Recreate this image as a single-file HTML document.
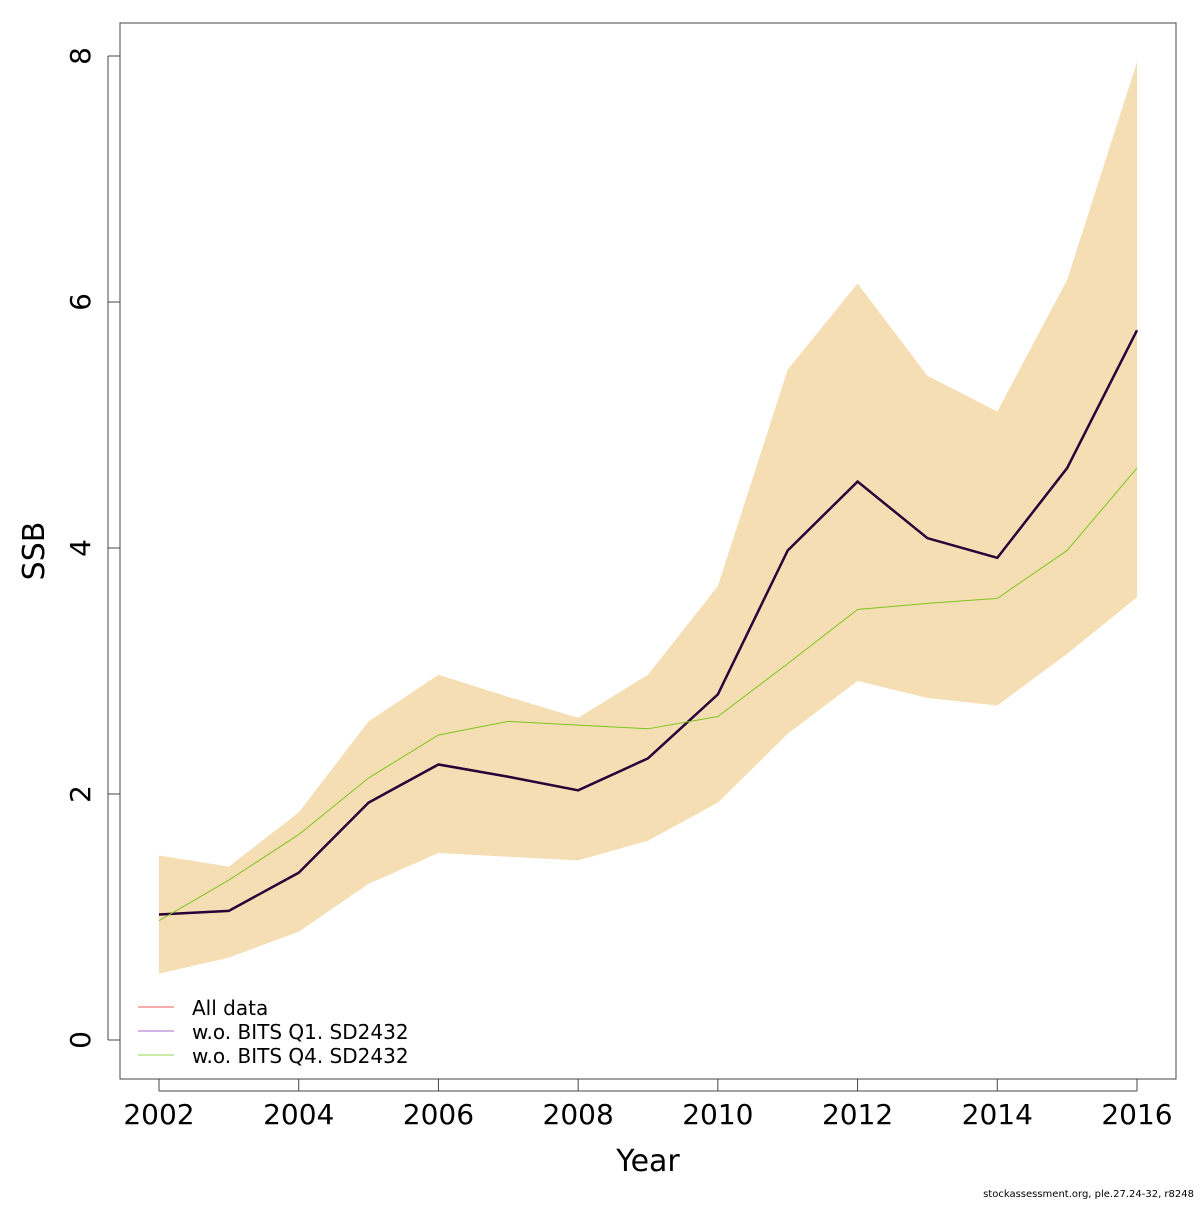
<!DOCTYPE html>
<html><head><meta charset="utf-8"><style>
body{margin:0;background:#fff}
svg text{font-family:"DejaVu Sans","Liberation Sans",sans-serif;fill:#000}
</style></head><body>
<svg id="chart" width="1200" height="1200" xmlns="http://www.w3.org/2000/svg">
<rect x="0" y="0" width="1200" height="1200" fill="#fff"/>
<g id="plot"></g>
<rect x="120" y="23" width="1056" height="1056" fill="none" stroke="#444" stroke-width="1"/>
<text x="648" y="1171" font-size="30" text-anchor="middle">Year</text>
<text transform="translate(44,551) rotate(-90)" font-size="30" text-anchor="middle">SSB</text>
<text x="1194" y="1197" font-size="10" text-anchor="end">stockassessment.org, ple.27.24-32, r8248</text>
<g>
<line x1="138" y1="1007" x2="174" y2="1007" stroke="#F4908E" stroke-width="1.5"/>
<text x="192" y="1015" font-size="20">All data</text>
<line x1="138" y1="1031" x2="174" y2="1031" stroke="#C29BDB" stroke-width="1.5"/>
<text x="192" y="1039" font-size="20">w.o. BITS Q1. SD2432</text>
<line x1="138" y1="1055" x2="174" y2="1055" stroke="#B5E58C" stroke-width="1.5"/>
<text x="192" y="1063" font-size="20">w.o. BITS Q4. SD2432</text>
</g>
</svg>
<script>
const years=[2002,2003,2004,2005,2006,2007,2008,2009,2010,2011,2012,2013,2014,2015,2016];
const upper=[1.50,1.41,1.85,2.59,2.97,2.79,2.62,2.97,3.69,5.45,6.15,5.40,5.11,6.18,7.95];
const lower=[0.54,0.67,0.88,1.27,1.52,1.49,1.46,1.62,1.93,2.49,2.92,2.78,2.72,3.14,3.60];
const allData=[1.02,1.05,1.36,1.93,2.24,2.14,2.03,2.29,2.81,3.98,4.54,4.08,3.92,4.65,5.77];
const woQ4=[0.97,1.30,1.67,2.13,2.48,2.59,2.56,2.53,2.63,3.06,3.50,3.55,3.59,3.98,4.65];
const xTicks=[2002,2004,2006,2008,2010,2012,2014,2016];
const yTicks=[0,2,4,6,8];
const X=v=>159+(v-2002)*(1137-159)/14;
const Y=v=>1040-v*123;
const NS='http://www.w3.org/2000/svg';
const g=document.getElementById('plot');
function mk(t,a){const e=document.createElementNS(NS,t);for(const k in a)e.setAttribute(k,a[k]);g.appendChild(e);return e;}
let pts=years.map((y,i)=>X(y)+','+Y(upper[i]));
for(let i=years.length-1;i>=0;i--)pts.push(X(years[i])+','+Y(lower[i]));
const band=mk('polygon',{points:pts.join(' '),fill:'#F5DEB3',stroke:'none'});


const l1=mk('polyline',{points:years.map((y,i)=>X(y)+','+Y(allData[i])).join(' '),fill:'none',stroke:'#2A0038','stroke-width':2.5});


const l2=mk('polyline',{points:years.map((y,i)=>X(y)+','+Y(woQ4[i])).join(' '),fill:'none',stroke:'#7DC41F','stroke-width':1});


xTicks.forEach(t=>{
 const tk=mk('line',{x1:X(t),y1:1079,x2:X(t),y2:1091,stroke:'#444'});
 
 
 const tx=mk('text',{x:X(t),y:1124,'font-size':28,'text-anchor':'middle'});tx.textContent=t;
 
 
});
mk('line',{x1:X(2002),y1:1091,x2:X(2016),y2:1091,stroke:'#444'});
yTicks.forEach(t=>{
 const tk=mk('line',{x1:108,y1:Y(t),x2:120,y2:Y(t),stroke:'#444'});
 
 
 const tx=mk('text',{transform:`translate(90,${Y(t)}) rotate(-90)`,'font-size':28,'text-anchor':'middle'});tx.textContent=t;
 
 
});
mk('line',{x1:108,y1:Y(0),x2:108,y2:Y(8),stroke:'#444'});
</script>
</body></html>
